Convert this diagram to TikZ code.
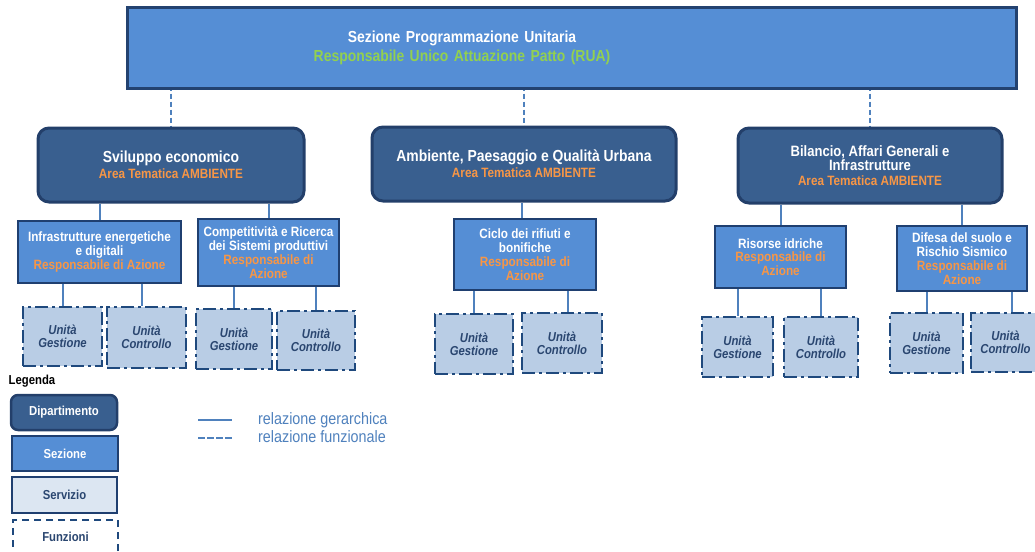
\documentclass[tikz,border=0pt]{standalone}
\usepackage{fontspec}
\setmainfont{Liberation Sans}[FakeStretch=0.87]
\usetikzlibrary{backgrounds,calc}

\definecolor{secfill}{HTML}{558ED5}
\definecolor{topline}{HTML}{234270}
\definecolor{deptfill}{HTML}{395F8F}
\definecolor{deptline}{HTML}{233F6A}
\definecolor{secline}{HTML}{1F3F70}
\definecolor{unitfill}{HTML}{B9CDE5}
\definecolor{unitline}{HTML}{1F497D}
\definecolor{unittext}{HTML}{2A4670}
\definecolor{servfill}{HTML}{DCE6F2}
\definecolor{connblue}{HTML}{4F81BD}
\definecolor{orangeT}{HTML}{F79646}
\definecolor{greenT}{HTML}{92D050}

\newcommand{\areafont}{\color{orangeT}\fontsize{13.5}{13}\selectfont}
\newcommand{\widewords}{\spaceskip=5.5pt plus 1pt minus 0.5pt\relax}

\begin{document}
\begin{tikzpicture}[x=1pt,y=-1pt,
  sz/.style 2 args={minimum width=#1, minimum height=#2},
  topbox/.style={draw=topline, line width=3pt, fill=secfill, inner sep=0pt},
  toptext/.style={text=white, align=center, font=\bfseries\fontsize{16}{19}\selectfont\widewords},
  deptbox/.style={draw=deptline, line width=3pt, fill=deptfill, rounded corners=11pt,
    text=white, align=center, inner sep=0pt, font=\bfseries\fontsize{16}{16}\selectfont},
  secbox/.style={draw=secline, line width=2.5pt, fill=secfill, text=white, align=center,
    inner sep=0pt, font=\bfseries\fontsize{13.5}{13.8}\selectfont},
  unitbox/.style={draw=unitline, line width=2.5pt, fill=unitfill, text=unittext, align=center,
    inner sep=0pt, dash pattern=on 13pt off 4pt on 3pt off 4pt,
    font=\bfseries\itshape\fontsize{13}{12.8}\selectfont},
  legdept/.style={deptbox, rounded corners=7pt, line width=2.5pt, font=\bfseries\fontsize{13}{13}\selectfont},
  legsec/.style={secbox, line width=2.5pt, font=\bfseries\fontsize{13}{13}\selectfont},
  legserv/.style={draw=secline, line width=2pt, fill=servfill, text=unittext, inner sep=0pt,
    font=\bfseries\fontsize{13}{13}\selectfont},
  legfun/.style={draw=unitline, line width=2pt, fill=white, text=unittext, inner sep=0pt,
    dash pattern=on 7pt off 5pt, font=\bfseries\fontsize{13}{13}\selectfont},
  hier/.style={draw=connblue, line width=2pt},
  func/.style={draw=connblue, line width=2pt, dash pattern=on 5pt off 3pt},
  legtext/.style={text=connblue, anchor=west, inner sep=0pt, font=\fontsize{16.5}{16}\selectfont}
]
\useasboundingbox (0,0) rectangle (1035,551);

% top level
\node[topbox, sz={889pt}{80pt}] (top) at (571.5,48) {};
\node[toptext] (toplabel) at (462,47.5)
  {Sezione Programmazione Unitaria\\{\color{greenT}Responsabile Unico Attuazione Patto (RUA)}};

% departments
\node[deptbox, sz={266pt}{74pt}] (d1) at (171,165)
  {Sviluppo economico\\{\areafont Area Tematica AMBIENTE}};
\node[deptbox, sz={304pt}{74pt}] (d2) at (524,164)
  {Ambiente, Paesaggio e Qualità Urbana\\{\areafont Area Tematica AMBIENTE}};
\node[deptbox, sz={264pt}{75pt}, font=\bfseries\fontsize{15}{14.5}\selectfont] (d3) at (870,165.5)
  {Bilancio, Affari Generali e\\Infrastrutture\\{\areafont Area Tematica AMBIENTE}};

% sections
\node[secbox, sz={163pt}{62pt}] (s1) at (99.5,252)
  {Infrastrutture energetiche\\e digitali\\{\color{orangeT}Responsabile di Azione}};
\node[secbox, sz={141pt}{67pt}] (s2) at (268.5,252.5)
  {Competitività e Ricerca\\dei Sistemi produttivi\\{\color{orangeT}Responsabile di}\\{\color{orangeT}Azione}};
\node[secbox, sz={142pt}{71pt}] (s3) at (525,254.5)
  {Ciclo dei rifiuti e\\bonifiche\\{\color{orangeT}Responsabile di}\\{\color{orangeT}Azione}};
\node[secbox, sz={131pt}{62pt}] (s4) at (780.5,257)
  {Risorse idriche\\{\color{orangeT}Responsabile di}\\{\color{orangeT}Azione}};
\node[secbox, sz={130pt}{65pt}] (s5) at (962,258.5)
  {Difesa del suolo e\\Rischio Sismico\\{\color{orangeT}Responsabile di}\\{\color{orangeT}Azione}};

% units
\node[unitbox, sz={79pt}{59pt}] (u1) at (62.5,336.5) {Unità\\Gestione};
\node[unitbox, sz={79pt}{61pt}] (u2) at (146.5,337.5) {Unità\\Controllo};
\node[unitbox, sz={76pt}{60pt}] (u3) at (234,339) {Unità\\Gestione};
\node[unitbox, sz={78pt}{59pt}] (u4) at (316,340.5) {Unità\\Controllo};
\node[unitbox, sz={78pt}{60pt}] (u5) at (474,344) {Unità\\Gestione};
\node[unitbox, sz={80pt}{60pt}] (u6) at (562,343) {Unità\\Controllo};
\node[unitbox, sz={71pt}{60pt}] (u7) at (737.5,347) {Unità\\Gestione};
\node[unitbox, sz={74pt}{60pt}] (u8) at (821,347) {Unità\\Controllo};
\node[unitbox, sz={73pt}{60pt}] (u9) at (926.5,343) {Unità\\Gestione};
\node[unitbox, sz={69pt}{59pt}] (u10) at (1005.5,342.5) {Unità\\Controllo};

% connector anchor points that sit off the child centre
\coordinate (c2) at ([xshift=-4.5pt]u2.north);
\coordinate (c6) at ([xshift=6pt]u6.north);
\coordinate (c10) at ([xshift=6.5pt]u10.north);
\coordinate (cs3) at ([xshift=-3.5pt]s3.north);

% connectors
\begin{scope}[on background layer]
  \draw[func] ([yshift=4pt]top.south -| d1.north) -- (d1.north);
  \draw[func] ([yshift=4pt]top.south -| d2.north) -- (d2.north);
  \draw[func] ([yshift=4pt]top.south -| d3.north) -- (d3.north);
  \draw[hier] (d1.south -| s1.north) -- (s1.north);
  \draw[hier] (d1.south -| s2.north) -- (s2.north);
  \draw[hier] (d2.south -| cs3) -- (cs3);
  \draw[hier] (d3.south -| s4.north) -- (s4.north);
  \draw[hier] (d3.south -| s5.north) -- (s5.north);
  \draw[hier] (s1.south -| u1.north) -- (u1.north);
  \draw[hier] (s1.south -| c2) -- (c2);
  \draw[hier] (s2.south -| u3.north) -- (u3.north);
  \draw[hier] (s2.south -| u4.north) -- (u4.north);
  \draw[hier] (s3.south -| u5.north) -- (u5.north);
  \draw[hier] (s3.south -| c6) -- (c6);
  \draw[hier] (s4.south -| u7.north) -- (u7.north);
  \draw[hier] (s4.south -| u8.north) -- (u8.north);
  \draw[hier] (s5.south -| u9.north) -- (u9.north);
  \draw[hier] (s5.south -| c10) -- (c10);
\end{scope}

% legend
\node[anchor=west, inner sep=0pt, font=\bfseries\fontsize{13}{13}\selectfont] (legtitle) at (8.5,381) {Legenda};
\node[legdept, sz={106pt}{35pt}] (lg1) at (64,412.5) {Dipartimento};
\node[legsec, sz={106pt}{35pt}] (lg2) at (65,453.5) {Sezione};
\node[legserv, sz={105pt}{36pt}] (lg3) at (64.5,495) {Servizio};
\node[legfun, sz={105pt}{34pt}] (lg4) at (65.5,537) {Funzioni};

\coordinate (la1) at (198,420);
\coordinate (lb1) at (232,420);
\coordinate (la2) at (198,438);
\coordinate (lb2) at (232,438);
\draw[hier] (la1) -- (lb1);
\draw[func, dash pattern=on 6.5pt off 2.5pt] (la2) -- (lb2);
\node[legtext] (lt1) at (258,420) {relazione gerarchica};
\node[legtext] (lt2) at (258,437) {relazione funzionale};
\end{tikzpicture}
\end{document}
